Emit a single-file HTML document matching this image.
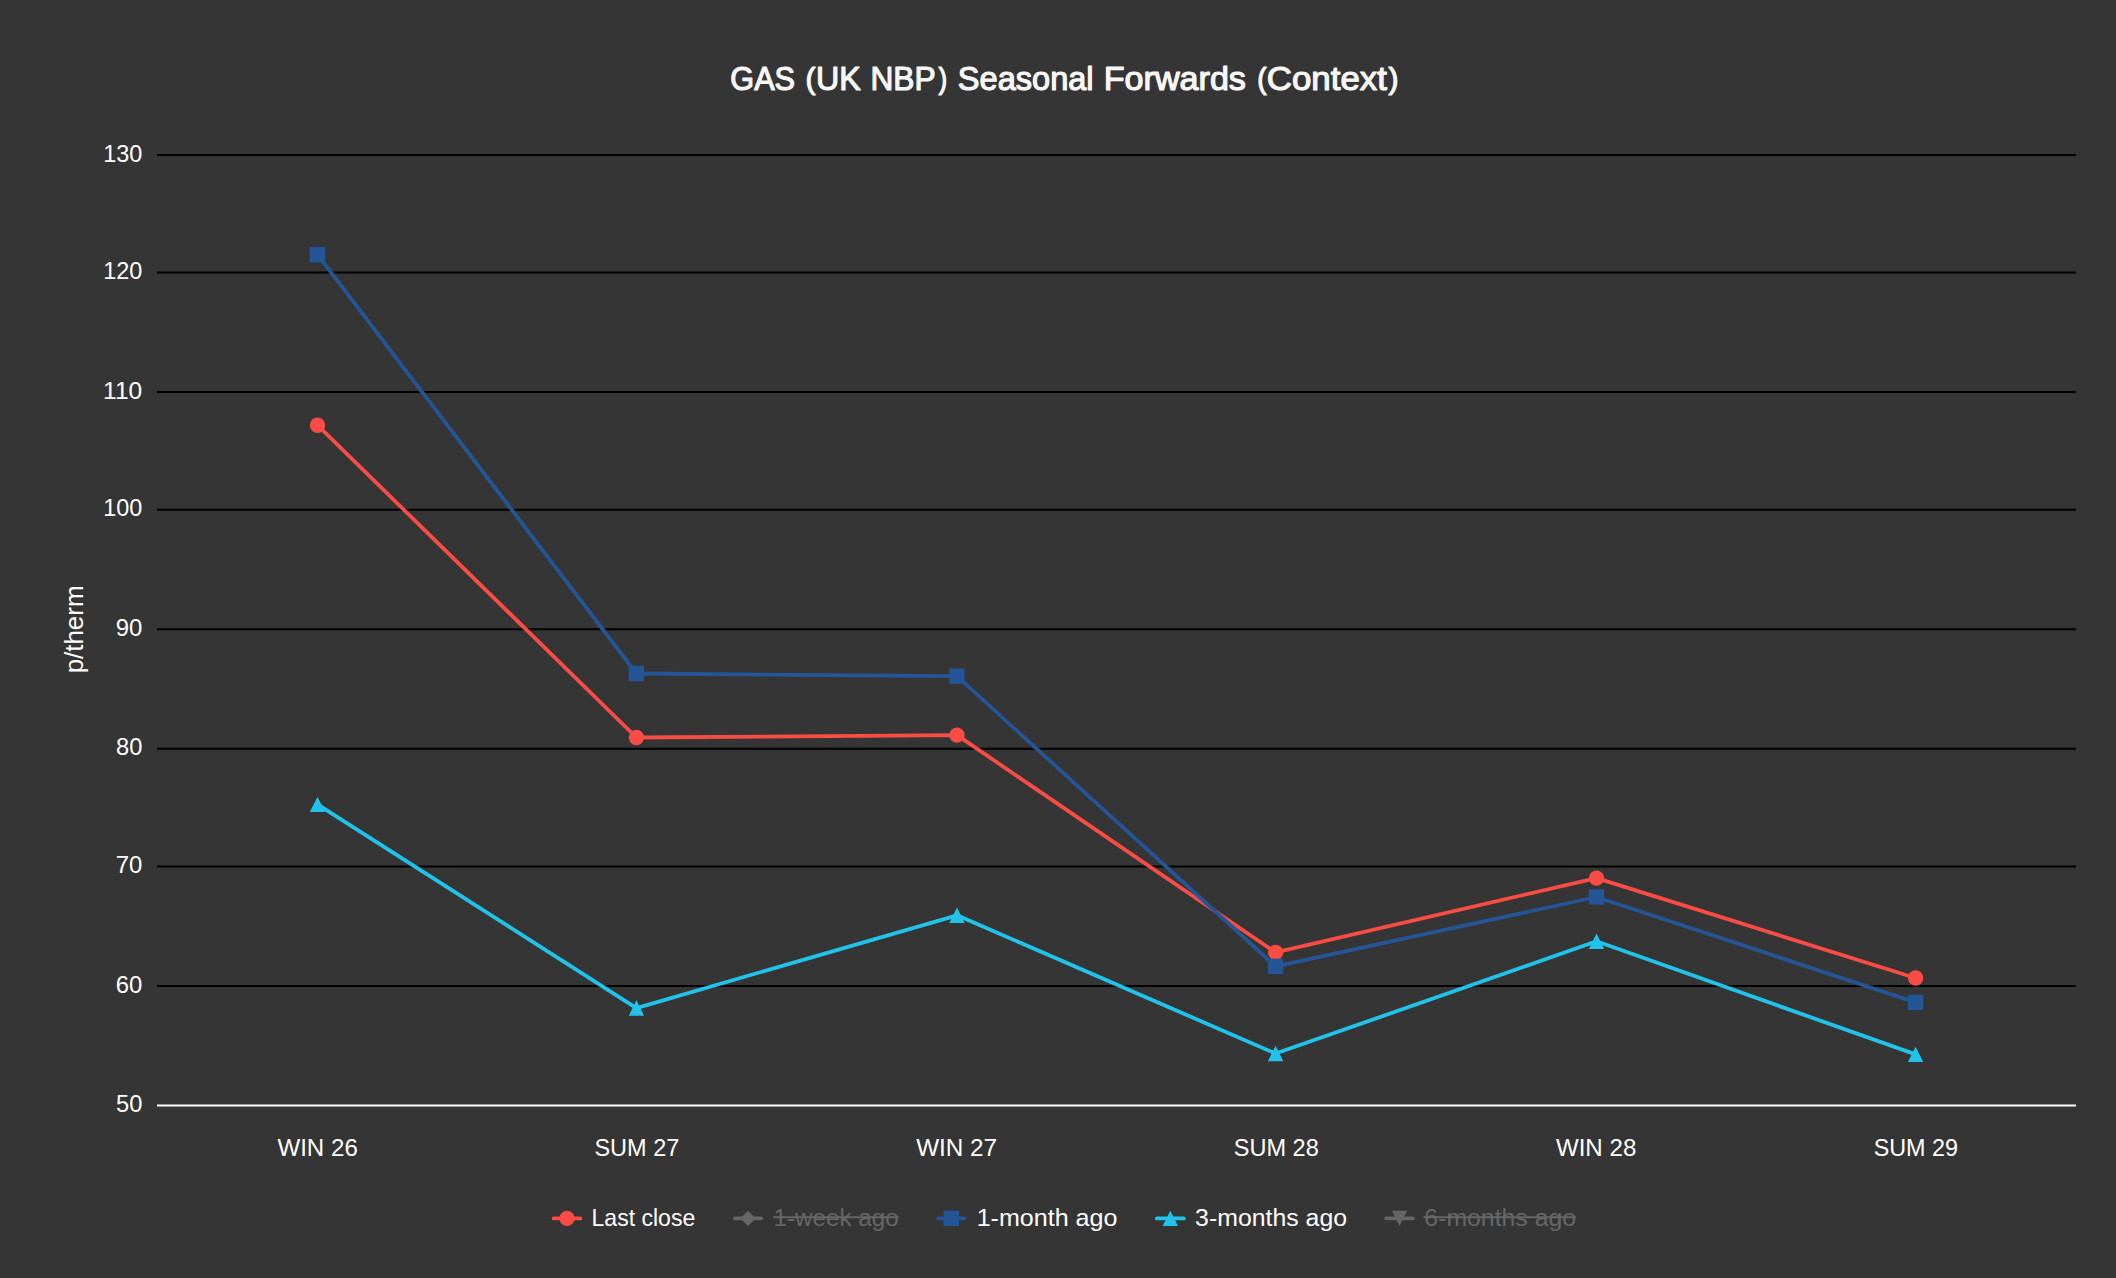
<!DOCTYPE html>
<html><head><meta charset="utf-8"><title>GAS (UK NBP) Seasonal Forwards (Context)</title>
<style>html,body{margin:0;padding:0;background:#353535;overflow:hidden}svg{display:block}text{font-family:'Liberation Sans', Arial, sans-serif}</style>
</head><body>
<svg width="2116" height="1278" viewBox="0 0 2116 1278">
<rect width="2116" height="1278" fill="#353535"/>
<g stroke="#000" stroke-width="2"><line x1="157" y1="155.0" x2="2076" y2="155.0"/><line x1="157" y1="272.5" x2="2076" y2="272.5"/><line x1="157" y1="392.0" x2="2076" y2="392.0"/><line x1="157" y1="509.7" x2="2076" y2="509.7"/><line x1="157" y1="629.3" x2="2076" y2="629.3"/><line x1="157" y1="748.7" x2="2076" y2="748.7"/><line x1="157" y1="866.5" x2="2076" y2="866.5"/><line x1="157" y1="986.0" x2="2076" y2="986.0"/></g>
<line x1="157" y1="1105.5" x2="2076" y2="1105.5" stroke="#fff" stroke-width="2"/>
<text transform="translate(730.27,90.40) scale(0.9027,1)" font-size="34" font-weight="normal" fill="#f7f7f7" stroke="#f7f7f7" stroke-width="1.2" stroke-linejoin="round">GAS</text>
<text transform="translate(816.02,90.40) scale(0.9480,1)" font-size="34" font-weight="normal" fill="#f7f7f7" stroke="#f7f7f7" stroke-width="1.2" stroke-linejoin="round">UK</text>
<text transform="translate(870.46,90.40) scale(0.9326,1)" font-size="34" font-weight="normal" fill="#f7f7f7" stroke="#f7f7f7" stroke-width="1.2" stroke-linejoin="round">NBP</text>
<text transform="translate(957.82,90.40) scale(0.9582,1)" font-size="34" font-weight="normal" fill="#f7f7f7" stroke="#f7f7f7" stroke-width="1.2" stroke-linejoin="round">Seasonal</text>
<text transform="translate(1103.67,90.40) scale(1.0044,1)" font-size="34" font-weight="normal" fill="#f7f7f7" stroke="#f7f7f7" stroke-width="1.2" stroke-linejoin="round">Forwards</text>
<text transform="translate(1266.86,90.40) scale(1.0246,1)" font-size="34" font-weight="normal" fill="#f7f7f7" stroke="#f7f7f7" stroke-width="1.2" stroke-linejoin="round">Context</text>
<text transform="translate(805.50,88.83) scale(0.9894,1)" font-size="30.32" font-weight="normal" fill="#f7f7f7" stroke="#f7f7f7" stroke-width="1.2" stroke-linejoin="round">(</text>
<text transform="translate(938.54,88.83) scale(0.8626,1)" font-size="30.32" font-weight="normal" fill="#f7f7f7" stroke="#f7f7f7" stroke-width="1.2" stroke-linejoin="round">)</text>
<text transform="translate(1257.22,88.83) scale(0.9260,1)" font-size="30.32" font-weight="normal" fill="#f7f7f7" stroke="#f7f7f7" stroke-width="1.2" stroke-linejoin="round">(</text>
<text transform="translate(1388.50,88.83) scale(0.9894,1)" font-size="30.32" font-weight="normal" fill="#f7f7f7" stroke="#f7f7f7" stroke-width="1.2" stroke-linejoin="round">)</text>
<text transform="translate(103.16,161.60) scale(0.9776,1)" font-size="24" font-weight="normal" fill="#ffffff" >130</text>
<text transform="translate(103.16,279.10) scale(0.9776,1)" font-size="24" font-weight="normal" fill="#ffffff" >120</text>
<text transform="translate(103.08,398.60) scale(1.0235,1)" font-size="24" font-weight="normal" fill="#ffffff" >110</text>
<text transform="translate(103.16,516.30) scale(0.9776,1)" font-size="24" font-weight="normal" fill="#ffffff" >100</text>
<text transform="translate(115.80,635.90) scale(0.9967,1)" font-size="24" font-weight="normal" fill="#ffffff" >90</text>
<text transform="translate(116.05,755.30) scale(0.9871,1)" font-size="24" font-weight="normal" fill="#ffffff" >80</text>
<text transform="translate(115.80,873.10) scale(0.9967,1)" font-size="24" font-weight="normal" fill="#ffffff" >70</text>
<text transform="translate(115.80,992.60) scale(0.9967,1)" font-size="24" font-weight="normal" fill="#ffffff" >60</text>
<text transform="translate(116.05,1112.10) scale(0.9871,1)" font-size="24" font-weight="normal" fill="#ffffff" >50</text>
<text transform="translate(277.40,1156.00) scale(0.9851,1)" font-size="24.5" font-weight="normal" fill="#ffffff" >WIN 26</text>
<text transform="translate(594.42,1156.00) scale(0.9594,1)" font-size="24.5" font-weight="normal" fill="#ffffff" >SUM 27</text>
<text transform="translate(916.20,1156.00) scale(0.9913,1)" font-size="24.5" font-weight="normal" fill="#ffffff" >WIN 27</text>
<text transform="translate(1233.72,1156.00) scale(0.9613,1)" font-size="24.5" font-weight="normal" fill="#ffffff" >SUM 28</text>
<text transform="translate(1555.90,1156.00) scale(0.9851,1)" font-size="24.5" font-weight="normal" fill="#ffffff" >WIN 28</text>
<text transform="translate(1873.63,1156.00) scale(0.9543,1)" font-size="24.5" font-weight="normal" fill="#ffffff" >SUM 29</text>
<text transform="translate(82.7,673.36) rotate(-90) scale(0.9974,1)" font-size="26" fill="#ffffff">p/therm</text>
<polyline points="317.50,425.20 636.40,737.50 957.00,735.10 1275.60,952.40 1596.50,878.10 1915.60,978.00" fill="none" stroke="#f94c44" stroke-width="3.8" stroke-linejoin="round" stroke-linecap="round"/>
<circle cx="317.50" cy="425.20" r="7.7" fill="#f94c44"/><circle cx="636.40" cy="737.50" r="7.7" fill="#f94c44"/><circle cx="957.00" cy="735.10" r="7.7" fill="#f94c44"/><circle cx="1275.60" cy="952.40" r="7.7" fill="#f94c44"/><circle cx="1596.50" cy="878.10" r="7.7" fill="#f94c44"/><circle cx="1915.60" cy="978.00" r="7.7" fill="#f94c44"/>
<polyline points="317.50,254.70 636.40,673.50 957.00,676.20 1275.60,966.40 1596.50,897.00 1915.60,1002.40" fill="none" stroke="#245596" stroke-width="3.8" stroke-linejoin="round" stroke-linecap="round"/>
<rect x="309.80" y="247.00" width="15.4" height="15.4" fill="#245596"/><rect x="628.70" y="665.80" width="15.4" height="15.4" fill="#245596"/><rect x="949.30" y="668.50" width="15.4" height="15.4" fill="#245596"/><rect x="1267.90" y="958.70" width="15.4" height="15.4" fill="#245596"/><rect x="1588.80" y="889.30" width="15.4" height="15.4" fill="#245596"/><rect x="1907.90" y="994.70" width="15.4" height="15.4" fill="#245596"/>
<polyline points="317.50,804.40 636.40,1008.05 957.00,915.30 1275.60,1053.55 1596.50,941.30 1915.60,1054.40" fill="none" stroke="#21c3eb" stroke-width="3.8" stroke-linejoin="round" stroke-linecap="round"/>
<path d="M317.50 796.70L325.20 812.10L309.80 812.10Z" fill="#21c3eb"/><path d="M636.40 1000.35L644.10 1015.75L628.70 1015.75Z" fill="#21c3eb"/><path d="M957.00 907.60L964.70 923.00L949.30 923.00Z" fill="#21c3eb"/><path d="M1275.60 1045.85L1283.30 1061.25L1267.90 1061.25Z" fill="#21c3eb"/><path d="M1596.50 933.60L1604.20 949.00L1588.80 949.00Z" fill="#21c3eb"/><path d="M1915.60 1046.70L1923.30 1062.10L1907.90 1062.10Z" fill="#21c3eb"/>
<line x1="553.70" y1="1218.4" x2="580.30" y2="1218.4" stroke="#f94c44" stroke-width="3.8" stroke-linecap="round"/>
<circle cx="567.00" cy="1218.40" r="7.7" fill="#f94c44"/>
<text transform="translate(591.56,1226.00) scale(0.9441,1)" font-size="24.4" font-weight="normal" fill="#ffffff" >Last close</text>
<line x1="735.00" y1="1218.4" x2="761.10" y2="1218.4" stroke="#666666" stroke-width="3.8" stroke-linecap="round"/>
<path d="M748.05 1210.70L755.75 1218.40L748.05 1226.10L740.35 1218.40Z" fill="#666666"/>
<text transform="translate(773.51,1226.00) scale(0.9922,1)" font-size="24.4" font-weight="normal" fill="#666666" >1-week ago</text>
<line x1="773.20" y1="1217.3" x2="898.70" y2="1217.3" stroke="#666666" stroke-width="1.9"/>
<line x1="938.10" y1="1218.4" x2="964.40" y2="1218.4" stroke="#245596" stroke-width="3.8" stroke-linecap="round"/>
<rect x="943.55" y="1210.70" width="15.4" height="15.4" fill="#245596"/>
<text transform="translate(976.64,1226.00) scale(1.0283,1)" font-size="24.4" font-weight="normal" fill="#ffffff" >1-month ago</text>
<line x1="1156.80" y1="1218.4" x2="1183.80" y2="1218.4" stroke="#21c3eb" stroke-width="3.8" stroke-linecap="round"/>
<path d="M1170.30 1210.70L1178.00 1226.10L1162.60 1226.10Z" fill="#21c3eb"/>
<text transform="translate(1195.11,1226.00) scale(1.0188,1)" font-size="24.4" font-weight="normal" fill="#ffffff" >3-months ago</text>
<line x1="1386.30" y1="1218.4" x2="1412.80" y2="1218.4" stroke="#666666" stroke-width="3.8" stroke-linecap="round"/>
<path d="M1391.85 1210.70L1407.25 1210.70L1399.55 1226.10Z" fill="#666666"/>
<text transform="translate(1424.36,1226.00) scale(1.0171,1)" font-size="24.4" font-weight="normal" fill="#666666" >6-months ago</text>
<line x1="1423.60" y1="1217.3" x2="1576.00" y2="1217.3" stroke="#666666" stroke-width="1.9"/>
</svg>
</body></html>
